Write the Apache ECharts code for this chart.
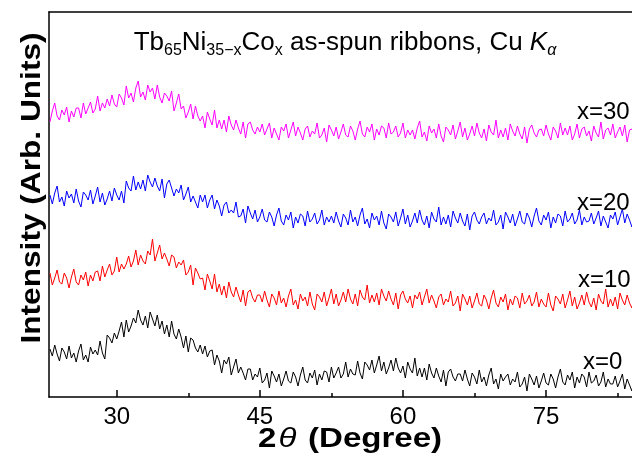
<!DOCTYPE html>
<html>
<head>
	<meta charset="utf-8">
	<title>Tb65Ni35-xCox XRD</title>
	<script src="https://cdn.jsdelivr.net/npm/echarts@6/dist/echarts.min.js"></script>
	<style>
		html, body { margin: 0; padding: 0; background: #fff; }
		#chart { width: 632px; height: 459px; }
	</style>
</head>
<body>
	<div id="chart"></div>
	<script>
		// scan grid: 2theta from 23 deg, 0.25 deg per step
		const scanStart = 23;
		const scanStep = 0.25;

		// intensities (arb. units, curves already offset)
		const x0 = [
			48,41,52,43, 36,49,45,38, 51,39,44,35, 46,53,37,42, 35,50,43,47, 42,56,44,38,
			62,59,54,64, 58,66,75,60, 77,65,71,79, 74,87,77,72, 81,69,85,78, 71,82,68,76,
			63,72,60,76, 63,58,68,60, 49,61,45,59, 57,49,45,52, 43,51,40,46, 47,32,42,36,
			24,37,33,40, 22,30,38,24, 30,24,17,28, 28,17,23,20, 29,14,17,24, 9,26,21,15,
			23,11,18,26, 16,14,25,20, 11,22,30,17, 14,24,19,27, 12,23,17,26, 25,15,30,19,
			24,30,19,23, 35,20,28,23, 22,36,24,18, 35,32,27,37, 24,32,41,26, 35,23,29,37,
			26,39,29,24, 31,19,35,28, 24,39,21,29, 20,29,17,33, 24,19,29,21, 15,27,11,25,
			28,20,16,23, 23,16,27,18, 11,24,20,13, 27,15,20,11, 22,29,13,18, 8,23,16,20,
			23,12,18,15, 25,10,13,20, 6,23,18,12, 21,9,16,24, 14,12,23,18, 9,20,28,15,
			12,22,17,25, 9,20,14,23, 20,10,25,14, 16,22,11,15, 25,10,18,13, 13,21,10,16,
			23,8,18,12, 6,19,15,22
		];
		const x10 = [
			124,112,119,127, 115,113,124,119, 109,120,128,115, 112,122,117,125, 111,122,116,125, 126,116,131,120,
			127,133,122,126, 140,125,133,128, 133,141,130,136, 147,132,142,136, 133,146,142,158, 136,144,152,138,
			144,138,131,142, 140,129,135,132, 137,122,125,132, 112,129,124,118, 119,107,123,116, 108,123,105,113,
			102,111,99,115, 105,100,110,102, 95,107,91,105, 107,99,95,102, 102,95,106,97, 90,103,99,92,
			106,94,99,90, 101,108,92,97, 88,103,96,100, 91,105,93,87, 103,100,95,105, 91,99,108,93,
			103,91,97,105, 95,108,98,93, 103,91,107,100, 97,112,94,102, 95,104,92,108, 101,96,106,98,
			92,104,88,102, 106,98,94,101, 89,102,98,105, 92,100,108,94, 102,96,89,100, 103,92,98,95,
			106,91,94,101, 86,103,98,92, 101,89,96,104, 93,91,102,97, 88,99,107,94, 90,100,95,103,
			87,98,92,101, 99,89,104,93, 96,102,91,95, 105,90,98,93, 90,104,92,86, 101,98,93,103,
			89,97,106,91, 100,88,94,102, 92,105,95,90, 99,87,103,96, 93,108,90,98, 91,100,88,104,
			97,92,102,94, 89,101,85,99
		];
		const x20 = [
			202,193,204,211, 195,200,191,206, 199,203,194,208, 196,190,205,202, 197,207,193,201, 210,195,204,192,
			198,206,196,209, 202,197,206,194, 216,209,206,221, 207,215,208,217, 206,222,215,210, 219,211,206,218,
			199,213,217,209, 201,208,204,212, 197,203,210,195, 201,195,189,202, 195,202,189,197, 202,188,197,191,
			181,192,195,184, 187,184,195,180, 181,188,174,191, 184,178,187,175, 180,188,177,175, 185,180,171,182,
			189,176,172,182, 177,185,169,180, 174,183,181,171, 186,175,178,184, 173,177,187,172, 180,175,181,174,
			185,176,170,183, 179,172,187,175, 180,171,182,189, 173,178,169,184, 177,181,172,186, 174,168,183,180,
			175,185,171,179, 188,173,182,170, 176,184,174,187, 177,172,181,169, 185,178,175,190, 172,180,173,182,
			170,186,179,174, 184,176,171,183, 167,181,185,177, 173,180,184,173, 179,176,187,172, 175,182,168,185,
			180,174,183,171, 178,186,175,173, 184,179,170,181, 189,176,172,182, 177,185,169,180, 174,183,181,171,
			186,175,178,184, 173,177,187,172, 180,175,176,184, 173,179,186,171, 181,175,169,182, 178,185,172,180,
			188,174,183,177, 170,181,184,173
		];
		const x30 = [
			275,286,294,281, 277,287,282,290, 275,286,280,289, 289,279,294,283, 289,295,284,288, 301,286,294,289,
			298,291,302,293, 290,303,299,292, 311,299,304,295, 309,316,300,305, 297,312,305,309, 298,312,300,294,
			304,301,296,306, 286,294,303,288, 291,279,285,293, 278,291,281,276, 281,269,285,278, 272,287,269,277,
			268,277,265,281, 272,267,277,269, 263,275,259,273, 275,267,263,270, 265,273,262,268, 274,259,269,263,
			257,270,266,273, 259,267,275,261, 270,264,257,268, 271,260,266,263, 274,259,262,269, 255,272,267,261,
			270,258,265,273, 262,260,271,266, 257,268,276,263, 260,270,265,273, 257,268,262,271, 269,259,274,263,
			265,271,260,264, 274,259,267,262, 267,258,269,276, 260,265,256,271, 264,268,259,273, 261,255,270,267,
			262,272,258,266, 275,260,269,257, 263,271,261,274, 264,259,268,256, 272,265,262,277, 259,267,260,269,
			257,273,266,261, 271,263,258,270, 254,268,272,264, 260,267,268,261, 272,263,257,270, 266,259,274,262,
			269,262,271,257, 263,273,259,268, 270,261,266,256, 271,264,260,275, 258,267,269,262, 273,259,265,270,
			261,272,255,267, 268,263,271,258
		];

		const seriesNames = ['x=0', 'x=10', 'x=20', 'x=30'];
		const seriesColors = ['#000000', '#ff0000', '#0000ff', '#ff00ff'];
		const majorTicks = [30, 45, 60, 75];
		const minorTicks = [37.5, 52.5, 67.5, 82.5];

		const font = '"Liberation Sans", Arial, sans-serif';

		function toPairs(values){
			return values.map((v, i) => [scanStart + i * scanStep, v]);
		}

		const chart = echarts.init(document.getElementById('chart'), null, {renderer: 'canvas'});

		// the frame runs past the right edge of the picture
		const xCommon = {
			type: 'value',
			min: 22.9,
			max: 86,
			splitLine: {show: false}
		};

		chart.setOption({
			animation: false,
			backgroundColor: '#fff',
			grid: {left: 49, top: 12, width: 602, height: 385, containLabel: false, outerBoundsMode: 'none'},
			xAxis: [
				Object.assign({}, xCommon, {
					position: 'bottom',
					axisLine: {onZero: false, lineStyle: {color: '#000', width: 1.5}},
					axisTick: {inside: true, length: 7, customValues: majorTicks, lineStyle: {color: '#000', width: 1.5}},
					axisLabel: {customValues: majorTicks, margin: 8, color: '#000', fontSize: 24, fontFamily: font}
				}),
				Object.assign({}, xCommon, {
					position: 'bottom',
					axisLine: {show: false, onZero: false},
					axisTick: {inside: true, length: 4, customValues: minorTicks, lineStyle: {color: '#000', width: 1.5}},
					axisLabel: {show: false}
				}),
				Object.assign({}, xCommon, {
					position: 'top',
					axisLine: {onZero: false, lineStyle: {color: '#000', width: 1.5}},
					axisTick: {show: false},
					axisLabel: {show: false}
				})
			],
			yAxis: {
				type: 'value',
				min: 0,
				max: 385,
				axisLine: {show: true, lineStyle: {color: '#000', width: 1.5}},
				axisTick: {show: false},
				axisLabel: {show: false},
				splitLine: {show: false}
			},
			series: [x0, x10, x20, x30].map((vals, k) => ({
				name: seriesNames[k],
				type: 'line',
				data: toPairs(vals),
				showSymbol: false,
				lineStyle: {color: seriesColors[k], width: 1},
				z: 2 + k
			})),
			graphic: [
				{
					type: 'text', x: 345, y: 43, z: 10,
					style: {
						text: '{m|Tb}{s|65}{m|Ni}{s|35\u2212x}{m|Co}{s|x}{m| as-spun ribbons, Cu }{i|K}{si|\u03b1}',
						align: 'center', verticalAlign: 'middle',
						rich: {
							m: {fontSize: 26, fontFamily: font, fill: '#000', lineHeight: 32},
							s: {fontSize: 16, fontFamily: font, fill: '#000', lineHeight: 13, verticalAlign: 'bottom'},
							i: {fontSize: 26, fontFamily: font, fontStyle: 'italic', fill: '#000', lineHeight: 32},
							si: {fontSize: 16, fontFamily: font, fontStyle: 'italic', fill: '#000', lineHeight: 13, verticalAlign: 'bottom'}
						}
					}
				},
				{
					// wide bold face in the original: stretch along the text
					type: 'text', x: 32, y: 188, rotation: Math.PI / 2, scaleX: 1.13, z: 10,
					style: {
						text: 'Intensity (Arb. Units)',
						font: 'bold 28px ' + font,
						fill: '#000', align: 'center', verticalAlign: 'middle'
					}
				},
				{
					type: 'text', x: 350, y: 439, scaleX: 1.18, z: 10,
					style: {
						text: '{b|2}{t|\u03b8}{b| (Degree)}',
						align: 'center', verticalAlign: 'middle',
						rich: {
							b: {fontSize: 28, fontWeight: 'bold', fontFamily: font, fill: '#000'},
							t: {fontSize: 28, fontStyle: 'italic', fontFamily: font, fill: '#000', padding: [0, 2, 0, 2]}
						}
					}
				},
				{type: 'text', x: 577, y: 112, z: 10, style: {text: seriesNames[3], font: '24px ' + font, fill: '#000', align: 'left', verticalAlign: 'middle'}},
				{type: 'text', x: 577, y: 203, z: 10, style: {text: seriesNames[2], font: '24px ' + font, fill: '#000', align: 'left', verticalAlign: 'middle'}},
				{type: 'text', x: 578, y: 280, z: 10, style: {text: seriesNames[1], font: '24px ' + font, fill: '#000', align: 'left', verticalAlign: 'middle'}},
				{type: 'text', x: 583, y: 362, z: 10, style: {text: seriesNames[0], font: '24px ' + font, fill: '#000', align: 'left', verticalAlign: 'middle'}}
			]
		});
	</script>
</body>
</html>
